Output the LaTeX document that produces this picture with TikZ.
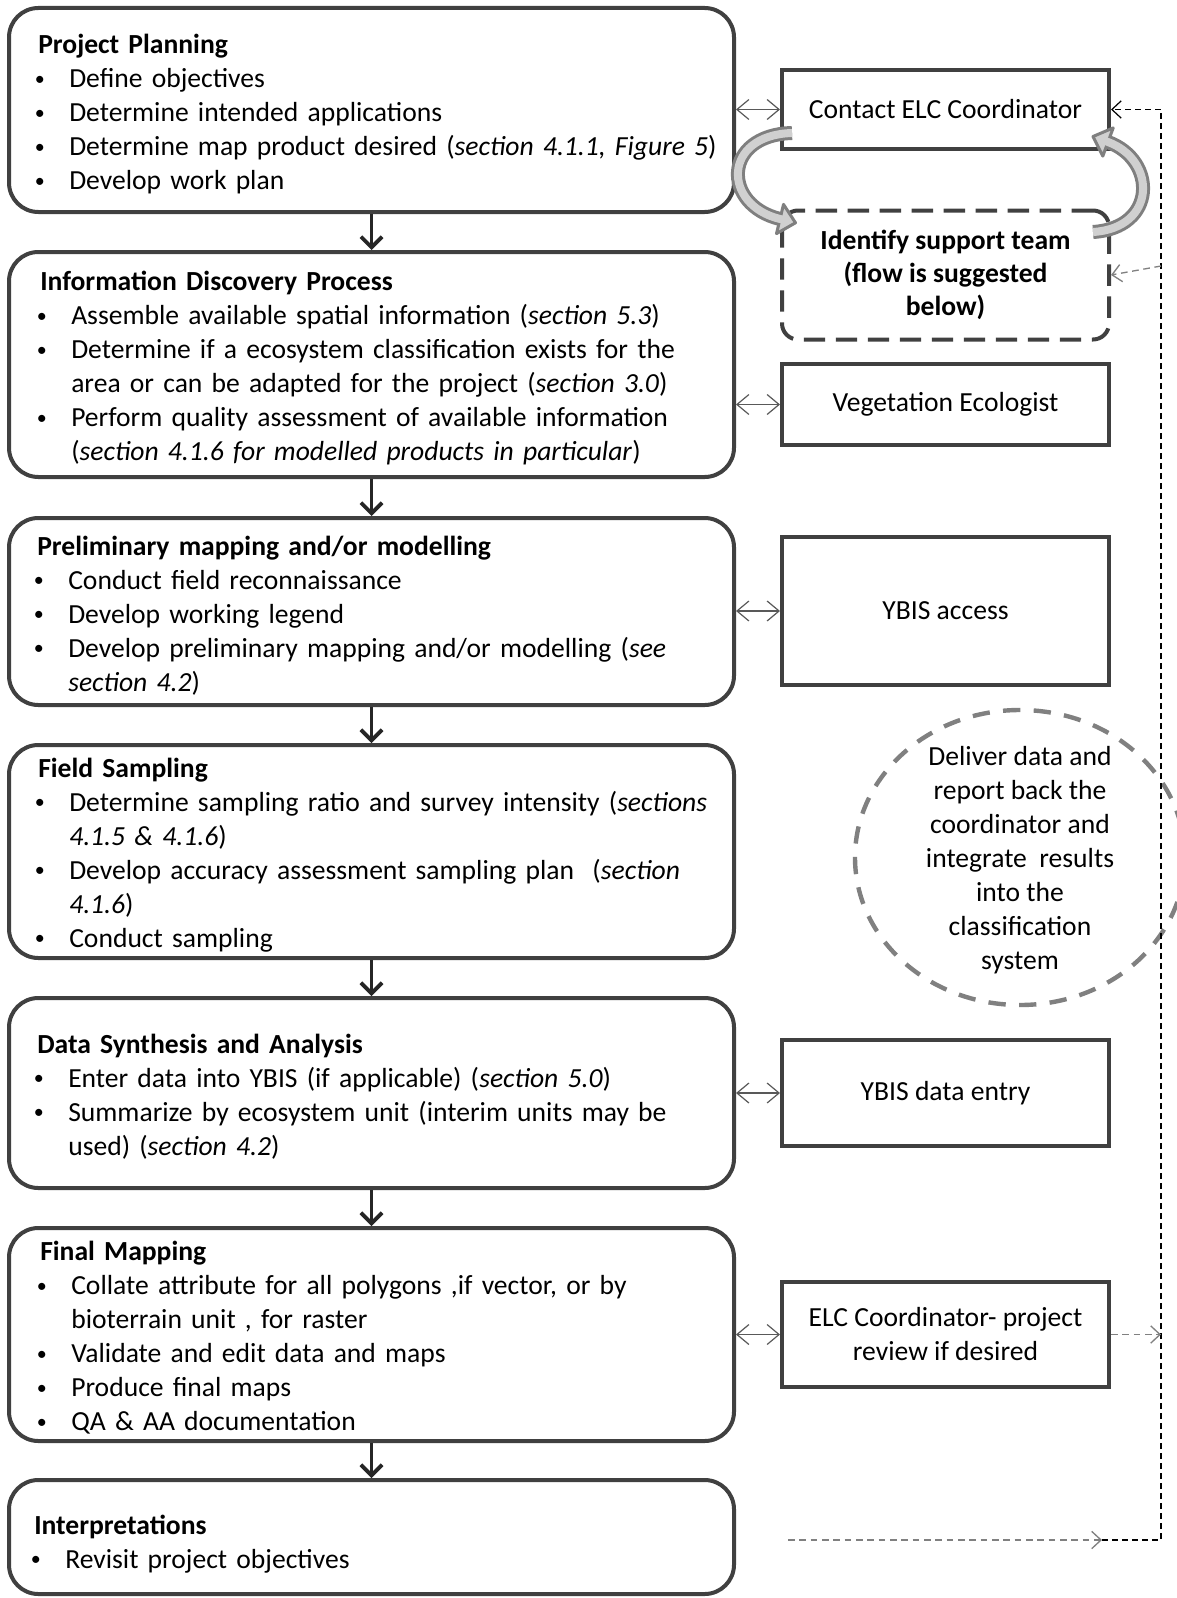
\documentclass[tikz,border=0pt]{standalone}
\usepackage{fontspec}
\setmainfont{Carlito}
\usetikzlibrary{arrows.meta,shapes.geometric,calc}
\definecolor{boxline}{HTML}{404040}
\definecolor{darkarrow}{HTML}{262626}
\definecolor{thinarrow}{HTML}{595959}
\definecolor{dashgray}{HTML}{808080}
\definecolor{curvfill}{HTML}{D0D0D0}
\definecolor{curvline}{HTML}{7F7F7F}
\newcommand{\smallbul}{{\fontsize{15pt}{15pt}\selectfont\raisebox{1.8pt}{\textbullet}}}
\newcommand{\bl}[1]{\par\hangindent=23.25pt\hangafter=1\noindent\makebox[23.25pt][l]{\hspace{-2.5pt}\smallbul}#1\par}
\frenchspacing
\tikzset{
 pbox/.style={draw=boxline, line width=3pt, rounded corners=22pt, minimum width=543.75pt, inner sep=0pt, fill=white},
 ptext/.style={align=left, text width=520pt, inner sep=0pt, anchor=west},
 rbox/.style={draw=boxline, line width=3pt, minimum width=245.25pt, inner sep=0pt, align=center, fill=white},
 downarr/.style={draw=darkarrow, line width=2.8pt, -{Straight Barb[length=8pt,width=16pt,line width=2.8pt]}},
 dbl/.style={draw=thinarrow, line width=0.9pt, {Straight Barb[length=9pt,width=15pt]}-{Straight Barb[length=9pt,width=15pt]}},
 blackdash/.style={draw=black, line width=0.9pt, dash pattern=on 4.5pt off 3pt},
 graydash/.style={draw=dashgray, line width=1pt, dash pattern=on 5pt off 3.5pt},
 dtip/.style={-{Straight Barb[length=7pt,width=13pt]}},
 curvout/.style={draw=curvline, line width=10.5pt},
 curvin/.style={draw=curvfill, line width=6pt},
 curvhead/.style={fill=curvfill, draw=curvline, line width=2.25pt, line join=round},
}
\begin{document}
\begin{tikzpicture}[x=0.75pt,y=-0.75pt,font=\fontsize{20.7pt}{25.5pt}\selectfont]
\useasboundingbox (0,0) rectangle (1177,1598);

% left process boxes
\node[pbox, minimum height=153pt] (b1) at (371.5,110) {};
\node[pbox, minimum height=168.75pt] (b2) at (371.5,364.5) {};
\node[pbox, minimum height=140.25pt] (b3) at (371.5,611.5) {};
\node[pbox, minimum height=159.75pt] (b4) at (371.5,851.5) {};
\node[pbox, minimum height=142.5pt] (b5) at (371.5,1093) {};
\node[pbox, minimum height=159.75pt] (b6) at (371.5,1334.5) {};
\node[pbox, minimum height=85.5pt] (b7) at (371.5,1537) {};

\node[ptext] (t1) at (38,114) {\noindent\textbf{Project Planning}
\bl{Define objectives}
\bl{Determine intended applications}
\bl{Determine map product desired (\textit{section 4.1.1, Figure 5})}
\bl{Develop work plan}};

\node[ptext] (t2) at (40,368) {\noindent\textbf{Information Discovery Process}
\bl{Assemble available spatial information (\textit{section 5.3})}
\bl{Determine if a ecosystem classification exists for the\newline area or can be adapted for the project (\textit{section 3.0})}
\bl{Perform quality assessment of available information\newline (\textit{section 4.1.6 for modelled products in particular})}};

\node[ptext] (t3) at (37,615.5) {\noindent\textbf{Preliminary mapping and/or modelling}
\bl{Conduct field reconnaissance}
\bl{Develop working legend}
\bl{Develop preliminary mapping and/or modelling (\textit{see}\newline \textit{section 4.2})}};

\node[ptext] (t4) at (38,855) {\noindent\textbf{Field Sampling}
\bl{Determine sampling ratio and survey intensity (\textit{sections}\newline \textit{4.1.5 \& 4.1.6})}
\bl{Develop accuracy assessment sampling plan\ \ (\textit{section}\newline \textit{4.1.6})}
\bl{Conduct sampling}};

\node[ptext] (t5) at (37,1096.5) {\noindent\textbf{Data Synthesis and Analysis}
\bl{Enter data into YBIS (if applicable) (\textit{section 5.0})}
\bl{Summarize by ecosystem unit (interim units may be\newline used) (\textit{section 4.2})}};

\node[ptext] (t6) at (40,1338) {\noindent\textbf{Final Mapping}
\bl{Collate attribute for all polygons ,if vector, or by\newline bioterrain unit , for raster}
\bl{Validate and edit data and maps}
\bl{Produce final maps}
\bl{QA \& AA documentation}};

\node[ptext] (t7) at (34,1544) {\noindent\textbf{Interpretations}
\bl{Revisit project objectives}};

% down arrows
\draw[downarr] (b1.south) -- (b2.north);
\draw[downarr] (b2.south) -- (b3.north);
\draw[downarr] (b3.south) -- (b4.north);
\draw[downarr] (b4.south) -- (b5.north);
\draw[downarr] (b5.south) -- (b6.north);
\draw[downarr] (b6.south) -- (b7.north);

% right boxes
\node[rbox, minimum height=59.25pt] (contact) at (945.5,109.5) {Contact ELC Coordinator};
\node[rbox, minimum height=96.75pt, rounded corners=12pt, dash pattern=on 16pt off 8pt, font=\fontsize{20.7pt}{24.5pt}\selectfont\bfseries] (identify) at (945.5,275) {Identify support team\\(flow is suggested\\below)};
\node[rbox, minimum height=60.75pt] (veg) at (945.5,404.5) {Vegetation Ecologist};
\node[rbox, minimum height=111pt] (ybis) at (945.5,611) {YBIS access};
\node[rbox, minimum height=79.5pt] (entry) at (945.5,1093) {YBIS data entry};
\node[rbox, minimum height=78.75pt] (review) at (945.5,1334.5) {ELC Coordinator- project\\review if desired};

% ellipse
\node[ellipse, draw=dashgray, line width=3.3pt, dash pattern=on 13pt off 10pt, minimum width=247.5pt, minimum height=221.25pt, inner sep=0pt] (circ) at (1020,857.5) {};
\node[align=center, inner sep=0pt] (circt) at (1020,860.5) {Deliver data and\\report back the\\coordinator and\\integrate\ \ results\\into the\\classification\\system};

% double arrows
\draw[dbl] (contact.west -| b1.east) -- (contact.west);
\draw[dbl] (veg.west -| b2.east) -- (veg.west);
\draw[dbl] (ybis.west -| b3.east) -- (ybis.west);
\draw[dbl] (entry.west -| b5.east) -- (entry.west);
\draw[dbl] (review.west -| b6.east) -- (review.west);

% curved block arrows
\draw[curvout] (792,133) .. controls (722,135) and (722,205) .. (780,219);
\filldraw[curvhead] (795.5,222.8) -- (776.5,233.6) -- (783.5,204.4) -- cycle;
\draw[curvin] (792,133) .. controls (722,135) and (722,205) .. (780,219) -- (783.9,219.9);

\draw[curvout] (1093,232) .. controls (1157,228) and (1157,160) .. (1108,142);
\filldraw[curvhead] (1093,136.5) -- (1113.2,127.9) -- (1102.8,156.1) -- cycle;
\draw[curvin] (1093,232) .. controls (1157,228) and (1157,160) .. (1108,142) -- (1104.2,140.6);

% dashed feedback lines
\coordinate (dR) at (1161,1540);
\coordinate (gEnd) at (1102,1540);
\coordinate (gStart) at (788,1540);
\coordinate (gI) at (1161,266);
\draw[blackdash, dtip] (gEnd) -- (dR) -- (dR |- contact.east) -- (contact.east);
\draw[graydash, dtip] (gStart) -- (gEnd);
\draw[graydash, dtip] (review.east) -- (review.east -| dR);
\draw[graydash, dtip] (gI) -- (identify.east);
\end{tikzpicture}
\end{document}
